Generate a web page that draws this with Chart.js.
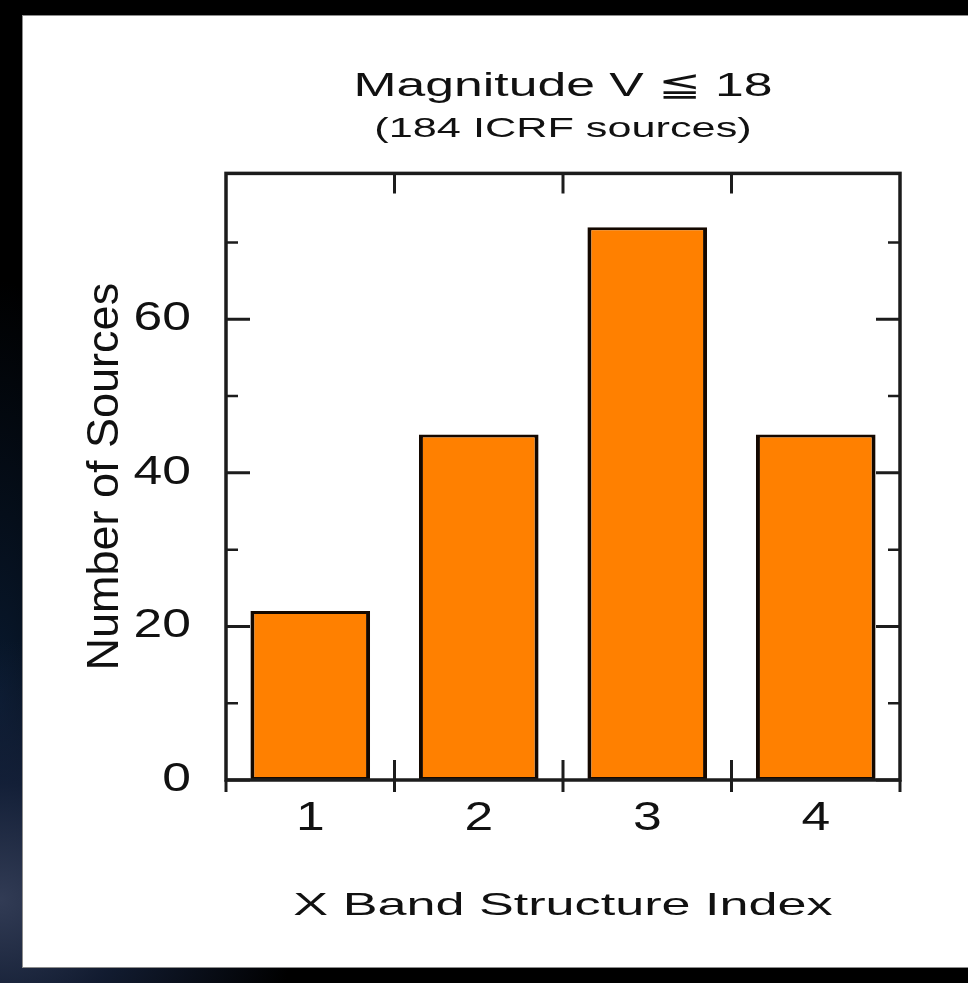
<!DOCTYPE html>
<html>
<head>
<meta charset="utf-8">
<script src="https://cdn.jsdelivr.net/npm/chart.js@4/dist/chart.umd.min.js"></script>
<style>
  html, body { margin: 0; padding: 0; }
  body {
    width: 968px; height: 983px; overflow: hidden; position: relative;
    background:
      radial-gradient(ellipse 300px 260px at 0px 900px, rgba(52,62,88,0.95) 0%, rgba(22,34,60,0.8) 45%, rgba(0,0,0,0) 100%),
      radial-gradient(ellipse 120px 420px at 0px 700px, rgba(10,28,52,0.9) 0%, rgba(0,0,0,0) 100%),
      #000;
  }
  #panel {
    position: absolute; left: 22px; top: 15px;
    width: 946px; height: 951px;
    background: #fff;
    border-left: 1px solid #8c8c8c; border-top: 1px solid #8c8c8c; border-bottom: 1px solid #8c8c8c;
  }
  #chart { position: absolute; left: 0; top: 0; }
</style>
</head>
<body>
<div id="panel"><canvas id="chart" width="946" height="951"></canvas></div>
<script>
// Source counts per X-band structure index
const categories = ['1', '2', '3', '4'];
const sourceCounts = [22, 45, 72, 45];
const yTickValues = [0, 20, 40, 60];
const yMinorValues = [10, 30, 50, 70];
const yMax = 79;

const titleText = 'Magnitude V \u2266 18';
const subtitleText = '(184 ICRF sources)';
const xTitleText = 'X Band Structure Index';
const yTitleText = 'Number of Sources';

// Horizontal text in this plot style is set wide; widen glyphs per font size.
const textStretch = { 34: 1.52, 28: 1.545, 40: 1.29, 32: 1.63 };
(function () {
  const proto = CanvasRenderingContext2D.prototype;
  const baseFill = proto.fillText;
  const baseMeasure = proto.measureText;
  function stretchFor(ctx) {
    const m = ctx.getTransform();
    if (Math.abs(m.b) > 1e-6 || Math.abs(m.c) > 1e-6) return 1; // rotated text keeps its shape
    const hit = /(\d+(?:\.\d+)?)px/.exec(ctx.font);
    return hit ? (textStretch[Math.round(parseFloat(hit[1]))] || 1) : 1;
  }
  proto.fillText = function (text, x, y, maxWidth) {
    const s = stretchFor(this);
    if (s === 1) {
      return maxWidth === undefined ? baseFill.call(this, text, x, y) : baseFill.call(this, text, x, y, maxWidth);
    }
    const m = this.getTransform();
    const p = m.transformPoint(new DOMPoint(x, y));
    this.setTransform(new DOMMatrix().translate(p.x, p.y).scale(s, 1).translate(-p.x, -p.y).multiply(m));
    if (maxWidth === undefined) baseFill.call(this, text, x, y);
    else baseFill.call(this, text, x, y, maxWidth / s);
    this.setTransform(m);
  };
  proto.measureText = function (text) {
    const r = baseMeasure.call(this, text);
    const s = stretchFor(this);
    if (s === 1) return r;
    return {
      width: r.width * s,
      actualBoundingBoxLeft: r.actualBoundingBoxLeft * s,
      actualBoundingBoxRight: r.actualBoundingBoxRight * s,
      actualBoundingBoxAscent: r.actualBoundingBoxAscent,
      actualBoundingBoxDescent: r.actualBoundingBoxDescent,
      fontBoundingBoxAscent: r.fontBoundingBoxAscent,
      fontBoundingBoxDescent: r.fontBoundingBoxDescent
    };
  };
})();

const FONT = "'Liberation Sans', Arial, sans-serif";
const INK = '#111';

// Box frame with inward ticks on all four sides
const frameTicks = {
  id: 'frameTicks',
  afterDatasetsDraw(chart) {
    const { ctx, chartArea: a, scales: { x, y } } = chart;
    ctx.save();
    ctx.strokeStyle = '#1c1c1c';
    ctx.lineCap = 'butt';
    const yTick = (v, len, w) => {
      const py = y.getPixelForValue(v);
      ctx.lineWidth = w;
      ctx.beginPath();
      ctx.moveTo(a.left, py); ctx.lineTo(a.left + len, py);
      ctx.moveTo(a.right, py); ctx.lineTo(a.right - len, py);
      ctx.stroke();
    };
    yTickValues.forEach(v => yTick(v, 24, 3));
    yMinorValues.forEach(v => yTick(v, 12, 2.5));

    const centers = categories.map((_, i) => x.getPixelForValue(i));
    const bounds = [a.left];
    for (let i = 1; i < centers.length; i++) bounds.push((centers[i - 1] + centers[i]) / 2);
    bounds.push(a.right);
    ctx.lineWidth = 3;
    bounds.forEach((bx, i) => {
      const inner = i > 0 && i < bounds.length - 1;
      ctx.beginPath();
      ctx.moveTo(bx, a.bottom + 12);
      ctx.lineTo(bx, inner ? a.bottom - 20 : a.bottom);
      if (inner) { ctx.moveTo(bx, a.top); ctx.lineTo(bx, a.top + 20); }
      ctx.stroke();
    });
    ctx.lineWidth = 3.5;
    ctx.strokeRect(a.left, a.top, a.width, a.height);
    ctx.restore();
  }
};

new Chart(document.getElementById('chart'), {
  type: 'bar',
  data: {
    labels: categories,
    datasets: [{
      data: sourceCounts,
      backgroundColor: '#ff8000',
      borderColor: '#140800',
      borderWidth: { top: 3, bottom: 3, left: 4, right: 4 },
      borderSkipped: false,
      barPercentage: 0.71,
      categoryPercentage: 1.0
    }]
  },
  options: {
    responsive: false,
    devicePixelRatio: 1,
    animation: false,
    events: [],
    layout: { padding: { left: 0, right: 69, top: 0, bottom: 0 } },
    plugins: {
      legend: { display: false },
      tooltip: { enabled: false },
      title: {
        display: true, text: titleText, fullSize: false,
        color: INK, font: { family: FONT, size: 34, weight: 'normal' },
        padding: { top: 50, bottom: 0 }
      },
      subtitle: {
        display: true, text: subtitleText, fullSize: false,
        color: INK, font: { family: FONT, size: 28, weight: 'normal' },
        padding: { top: 6, bottom: 27 }
      }
    },
    scales: {
      x: {
        grid: { display: false, drawTicks: false },
        border: { display: false },
        ticks: { color: INK, font: { family: FONT, size: 40 }, padding: 15, maxRotation: 0, autoSkip: false },
        title: {
          display: true, text: xTitleText, color: INK,
          font: { family: FONT, size: 32 }, padding: { top: 0, bottom: 42 }
        },
        afterFit(scale) { scale.height = 187; }
      },
      y: {
        min: 0, max: yMax,
        grid: { display: false, drawTicks: false },
        border: { display: false },
        afterBuildTicks(scale) { scale.ticks = yTickValues.map(v => ({ value: v })); },
        ticks: { color: INK, font: { family: FONT, size: 40 }, padding: 35 },
        title: {
          display: true, text: yTitleText, color: INK,
          font: { family: FONT, size: 45 }, padding: { top: 56, bottom: 0 }
        },
        afterFit(scale) { scale.width = 203; }
      }
    }
  },
  plugins: [frameTicks]
});
</script>
</body>
</html>
